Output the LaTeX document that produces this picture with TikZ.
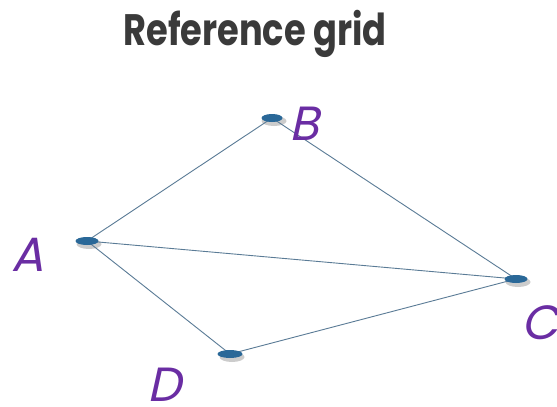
\documentclass[tikz,border=0pt]{standalone}
\usepackage{fontspec}
\usetikzlibrary{shapes.geometric}
\newfontfamily\titlefont{Poppins}[UprightFont=* Bold]
\newfontfamily\labelfont{Poppins}[FakeSlant=0.22]
\definecolor{titlegray}{HTML}{3A3A3A}
\definecolor{labelpurple}{HTML}{6A2DA3}
\definecolor{edgeblue}{HTML}{5A7B96}
\definecolor{dotblue}{HTML}{2A6898}
\tikzset{
  vertex/.style={ellipse, fill=dotblue, minimum width=23pt, minimum height=8pt, inner sep=0pt},
  vshadow/.style={ellipse, fill=black, opacity=0.2, minimum width=25pt, minimum height=10pt, inner sep=0pt},
  vlabel/.style={text=labelpurple, font=\labelfont\fontsize{48}{48}\selectfont, inner sep=0pt,
    text height=34pt, text depth=0pt},
  edge/.style={draw=edgeblue, line width=0.9pt}
}
\begin{document}
\begin{tikzpicture}[x=1pt,y=-1pt]
  \useasboundingbox (0,0) rectangle (557,407);
  \fill[white] (0,0) rectangle (557,407);
  % title
  \node[anchor=base, text=titlegray, inner sep=0pt, font=\titlefont\fontsize{44}{44}\selectfont, xscale=0.8] (title) at (255,45) {Reference grid};
  % soft shadows under the vertices
  \node[vshadow] at (89,244) {};
  \node[vshadow] at (274,121) {};
  \node[vshadow] at (518,282) {};
  \node[vshadow] at (232,357) {};
  % edge end points
  \coordinate (a) at (87,241);
  \coordinate (b) at (272,118);
  \coordinate (c) at (516,279);
  \coordinate (d) at (230,354);
  \draw[edge] (a) -- (b);
  \draw[edge] (b) -- (c);
  \draw[edge] (a) -- (c);
  \draw[edge] (a) -- (d);
  \draw[edge] (d) -- (c);
  % vertices
  \node[vertex] (A) at (a) {};
  \node[vertex, minimum width=21pt] (B) at (b) {};
  \node[vertex] (C) at (c) {};
  \node[vertex, minimum width=25pt] (D) at (d) {};
  % labels
  \node[vlabel] (lA) at (28,254) {A};
  \node[vlabel] (lB) at (304,123) {B};
  \node[vlabel] (lC) at (540,322) {C};
  \node[vlabel] (lD) at (164,384) {D};
\end{tikzpicture}
\end{document}
